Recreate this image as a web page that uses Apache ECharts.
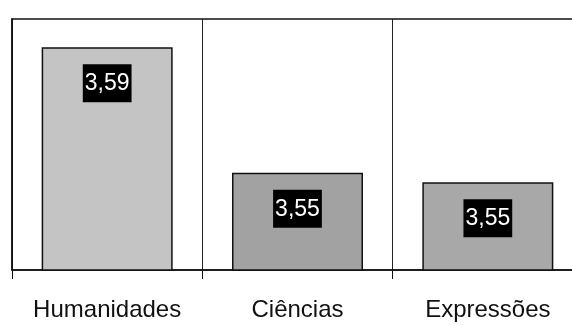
<!DOCTYPE html>
<html>
<head>
<meta charset="utf-8">
<script src="https://cdn.jsdelivr.net/npm/echarts@6/dist/echarts.min.js"></script>
<style>
  html, body { margin: 0; padding: 0; background: #fff; overflow: hidden; }
  #chart { width: 600px; height: 325px; }
</style>
</head>
<body>
<div id="chart"></div>
<script>
var categories = ['Humanidades', 'Ciências', 'Expressões'];
var means = [3.591, 3.551, 3.548];
var barColors = ['#c4c4c4', '#a2a2a2', '#a8a8a8'];

// the plot runs past the right edge of the page, as in the scanned original
var chart = echarts.init(document.getElementById('chart'));
var option = {
  animation: false,
  backgroundColor: '#fff',
  grid: { left: 12, top: 19, width: 571, height: 251, show: true, borderColor: '#111', borderWidth: 1.5, backgroundColor: 'transparent' },
  xAxis: {
    type: 'category',
    data: categories,
    axisLine: { show: true, lineStyle: { color: '#111', width: 1.5 } },
    axisTick: { show: true, interval: 0, length: 9, lineStyle: { color: '#111', width: 1 } },
    splitLine: { show: true, interval: 0, lineStyle: { color: '#222', width: 1 } },
    axisLabel: { interval: 0, margin: 28, fontFamily: 'Liberation Sans, Arial, sans-serif', fontSize: 24, color: '#111' }
  },
  yAxis: {
    type: 'value',
    min: 3.52,
    max: 3.6,
    axisLine: { show: true, lineStyle: { color: '#111', width: 1.5 } },
    axisTick: { show: false },
    axisLabel: { show: false },
    splitLine: { show: false }
  },
  series: [{
    type: 'bar',
    data: means,
    barWidth: 131,
    itemStyle: {
      color: function (p) { return barColors[p.dataIndex]; },
      borderColor: '#111',
      borderWidth: 1.5
    },
    label: {
      show: true,
      position: 'insideTop',
      distance: 17,
      formatter: function (p) { return p.value.toFixed(2).replace('.', ','); },
      fontFamily: 'Liberation Sans, Arial, sans-serif',
      fontSize: 23,
      color: '#fff',
      backgroundColor: '#000',
      padding: [8, 2, 7, 2]
    }
  }]
};
chart.setOption(option);
</script>
</body>
</html>
